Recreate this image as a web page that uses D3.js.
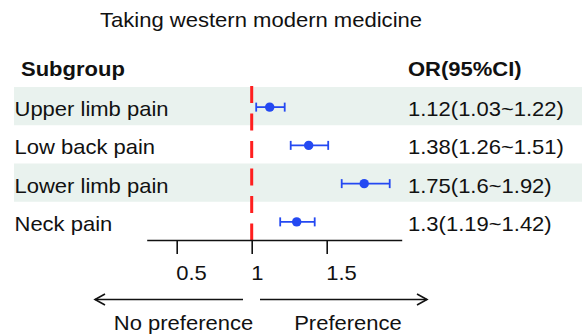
<!DOCTYPE html>
<html>
<head>
<meta charset="utf-8">
<script src="https://cdn.jsdelivr.net/npm/d3@7/dist/d3.min.js"></script>
<style>
  html, body { margin: 0; padding: 0; background: #fff; }
  svg { display: block; }
  text { font-family: "Liberation Sans", Arial, Helvetica, sans-serif; fill: #111; }
</style>
</head>
<body>
<script>
// Forest plot data: odds ratios with 95% confidence intervals
const subgroups = ["Upper limb pain", "Low back pain", "Lower limb pain", "Neck pain"];
const orValues  = [1.12, 1.38, 1.75, 1.3];
const ciLower   = [1.03, 1.26, 1.6, 1.19];
const ciUpper   = [1.22, 1.51, 1.92, 1.42];
const axisTicks = [0.5, 1, 1.5];
const titleText = "Taking western modern medicine";
const leftArrowLabel = "No preference";
const rightArrowLabel = "Preference";

const W = 582, H = 334;
const BLUE = "#2449f2", RED = "#ff1f1f", BAND = "#e9f2ee", INK = "#111";
const SX = 1.1; // horizontal text stretch

const svg = d3.select("body").append("svg")
  .attr("width", W).attr("height", H);

const x = d3.scaleLinear().domain([0.3, 2]).range([146.7, 401.7]);
const y = d3.scaleBand().domain(subgroups).range([87, 240]);
const axisY = 240;

function label(g, str, px, py, opts = {}) {
  return g.append("text")
    .attr("transform", `translate(${px},${py}) scale(${opts.sx || SX},1)`)
    .attr("text-anchor", opts.anchor || "start")
    .attr("font-size", opts.size || 20)
    .attr("font-weight", opts.weight || "normal")
    .text(str);
}

// shaded alternating rows
svg.append("g").selectAll("rect")
  .data(subgroups.filter((d, i) => i % 2 === 0))
  .join("rect")
  .attr("x", 14).attr("width", W - 14)
  .attr("y", d => y(d)).attr("height", y.bandwidth())
  .attr("fill", BAND);

// title and column headers
label(svg, titleText, 261, 27, { anchor: "middle", size: 21, sx: 1.05 });
label(svg, "Subgroup", 21, 76, { weight: "bold" });
label(svg, "OR(95%CI)", 408, 75.5, { weight: "bold" });

// reference line at OR = 1
svg.append("line")
  .attr("x1", x(1)).attr("x2", x(1))
  .attr("y1", 86).attr("y2", axisY)
  .attr("stroke", RED).attr("stroke-width", 3)
  .attr("stroke-dasharray", "17,10.5");

// rows: label, CI whisker, point, value text
const rows = svg.append("g").selectAll("g")
  .data(subgroups.map((s, i) => ({ s, or: orValues[i], lo: ciLower[i], hi: ciUpper[i] })))
  .join("g");

rows.each(function(d) {
  const g = d3.select(this);
  const top = y(d.s);
  const cy = top + y.bandwidth() / 2 + 1;
  label(g, d.s, 14.5, top + 29);
  label(g, `${d.or}(${d.lo}~${d.hi})`, 408, top + 29);
  g.append("line")
    .attr("x1", x(d.lo)).attr("x2", x(d.hi))
    .attr("y1", cy).attr("y2", cy)
    .attr("stroke", BLUE).attr("stroke-width", 1.8);
  [d.lo, d.hi].forEach(v => g.append("line")
    .attr("x1", x(v)).attr("x2", x(v))
    .attr("y1", cy - 4.5).attr("y2", cy + 4.5)
    .attr("stroke", BLUE).attr("stroke-width", 1.8));
  g.append("circle")
    .attr("cx", x(d.or)).attr("cy", cy).attr("r", 4.7)
    .attr("fill", BLUE);
});

// x axis
const axis = svg.append("g")
  .attr("transform", `translate(0,${axisY})`)
  .call(d3.axisBottom(x).tickValues(axisTicks).tickSize(14).tickSizeOuter(0)
    .tickFormat(d3.format("")));
axis.select(".domain").attr("stroke", INK).attr("stroke-width", 1.6);
axis.selectAll(".tick line").attr("stroke", INK).attr("stroke-width", 1.6);
axis.selectAll(".tick text")
  .attr("y", null).attr("dy", null)
  .attr("transform", `translate(-1,40) scale(${SX},1)`)
  .attr("text-anchor", "start")
  .attr("font-size", 20)
  .attr("font-family", null)
  .attr("fill", INK);

// direction arrows
const arrows = svg.append("g").attr("stroke", INK).attr("stroke-width", 1.6).attr("fill", "none");
arrows.append("line").attr("x1", 95).attr("x2", 243).attr("y1", 299.5).attr("y2", 299.5);
arrows.append("polyline").attr("points", "105,294 95,299.5 105,305");
arrows.append("line").attr("x1", 260).attr("x2", 427).attr("y1", 299.5).attr("y2", 299.5);
arrows.append("polyline").attr("points", "417,294 427,299.5 417,305");

label(svg, leftArrowLabel, 183.5, 329.5, { anchor: "middle" });
label(svg, rightArrowLabel, 348, 329.5, { anchor: "middle" });
</script>
</body>
</html>
